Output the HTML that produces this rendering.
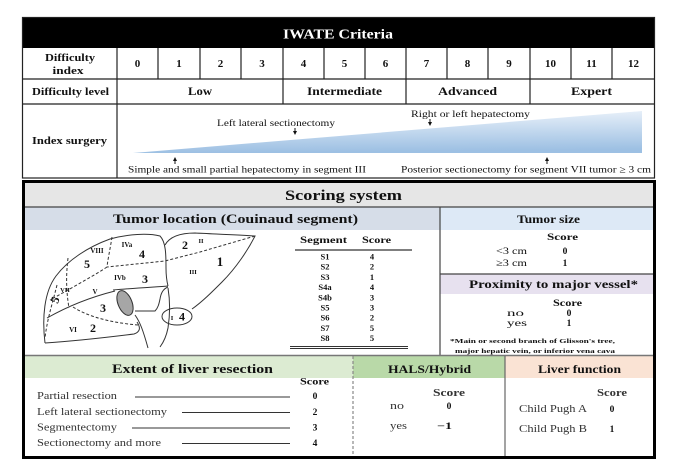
<!DOCTYPE html>
<html><head><meta charset="utf-8"><style>
html,body{margin:0;padding:0;background:#fff;}
svg{display:block;}
text{font-family:"Liberation Serif",serif;fill:#111;}
.b{font-weight:bold;}
</style></head><body>
<svg width="678" height="476" viewBox="0 0 678 476" xmlns="http://www.w3.org/2000/svg">
<defs>
<linearGradient id="wg" x1="0" y1="0" x2="0.1" y2="1">
<stop offset="0" stop-color="#eef4fb"/>
<stop offset="1" stop-color="#9dc0e3"/>
</linearGradient>
</defs>
<!-- TOP TABLE -->
<rect x="22" y="17" width="633" height="31" fill="#000"/>
<text x="338" y="38.5" class="b" font-size="14" text-anchor="middle" style="fill:#fff" textLength="110" lengthAdjust="spacingAndGlyphs">IWATE Criteria</text>
<g stroke="#222" stroke-width="1.2" fill="none">
<rect x="22.5" y="17.5" width="632" height="160.5"/>
<line x1="22" y1="79" x2="655" y2="79"/>
<line x1="22" y1="104" x2="655" y2="104"/>
<line x1="117" y1="48" x2="117" y2="178"/>
<line x1="158" y1="48" x2="158" y2="79"/>
<line x1="200" y1="48" x2="200" y2="79"/>
<line x1="241" y1="48" x2="241" y2="79"/>
<line x1="283" y1="48" x2="283" y2="104"/>
<line x1="324" y1="48" x2="324" y2="79"/>
<line x1="365" y1="48" x2="365" y2="79"/>
<line x1="406" y1="48" x2="406" y2="104"/>
<line x1="447" y1="48" x2="447" y2="79"/>
<line x1="488" y1="48" x2="488" y2="79"/>
<line x1="530" y1="48" x2="530" y2="104"/>
<line x1="571" y1="48" x2="571" y2="79"/>
<line x1="612" y1="48" x2="612" y2="79"/>
</g>
<text x="70" y="61" class="b" font-size="10.5" text-anchor="middle" textLength="50" lengthAdjust="spacingAndGlyphs">Difficulty</text>
<text x="68" y="74" class="b" font-size="10.5" text-anchor="middle" textLength="31" lengthAdjust="spacingAndGlyphs">index</text>
<g class="b" font-size="11" text-anchor="middle">
<text x="137.5" y="67" class="b">0</text>
<text x="179" y="67" class="b">1</text>
<text x="220.5" y="67" class="b">2</text>
<text x="262" y="67" class="b">3</text>
<text x="303.5" y="67" class="b">4</text>
<text x="344.5" y="67" class="b">5</text>
<text x="385.5" y="67" class="b">6</text>
<text x="426.5" y="67" class="b">7</text>
<text x="467.5" y="67" class="b">8</text>
<text x="509" y="67" class="b">9</text>
<text x="550.5" y="67" class="b">10</text>
<text x="591.5" y="67" class="b">11</text>
<text x="633.5" y="67" class="b">12</text>
</g>
<text x="32" y="95" class="b" font-size="11" textLength="77" lengthAdjust="spacingAndGlyphs">Difficulty level</text>
<text x="188" y="95" class="b" font-size="12" textLength="24" lengthAdjust="spacingAndGlyphs">Low</text>
<text x="307" y="95" class="b" font-size="12" textLength="75" lengthAdjust="spacingAndGlyphs">Intermediate</text>
<text x="438" y="95" class="b" font-size="12" textLength="59" lengthAdjust="spacingAndGlyphs">Advanced</text>
<text x="571" y="95" class="b" font-size="12" textLength="41" lengthAdjust="spacingAndGlyphs">Expert</text>
<text x="32" y="144" class="b" font-size="11" textLength="75" lengthAdjust="spacingAndGlyphs">Index surgery</text>
<polygon points="133,153 642,111 642,153" fill="url(#wg)"/>
<text x="217" y="126" font-size="9.5" textLength="118" lengthAdjust="spacingAndGlyphs">Left lateral sectionectomy</text>
<text x="411" y="117" font-size="9.5" textLength="119" lengthAdjust="spacingAndGlyphs">Right or left  hepatectomy</text>
<text x="128" y="172.5" font-size="9.5" textLength="238" lengthAdjust="spacingAndGlyphs">Simple and small partial hepatectomy in segment III</text>
<text x="401" y="172.5" font-size="9.5" textLength="250" lengthAdjust="spacingAndGlyphs">Posterior sectionectomy for segment VII tumor ≥ 3 cm</text>
<g fill="#111" stroke="#111" stroke-width="1">
<line x1="295" y1="128" x2="295" y2="132"/><polygon points="293,131 297,131 295,135" stroke="none"/>
<line x1="430" y1="119" x2="430" y2="123"/><polygon points="428,122 432,122 430,126" stroke="none"/>
<line x1="175" y1="160" x2="175" y2="164"/><polygon points="173,161 177,161 175,157" stroke="none"/>
<line x1="547" y1="160" x2="547" y2="164"/><polygon points="545,161 549,161 547,157" stroke="none"/>
</g>

<!-- SCORING BOX -->
<rect x="25" y="183" width="628" height="24" fill="#e6e6e6"/>
<rect x="25" y="207" width="415" height="23" fill="#d6dde8"/>
<rect x="440" y="207" width="213" height="23" fill="#dde9f6"/>
<rect x="440" y="274" width="213" height="20" fill="#e7e1ef"/>
<rect x="25" y="356" width="328" height="22" fill="#dcebd2"/>
<rect x="353" y="356" width="152" height="22" fill="#b9d9a8"/>
<rect x="505" y="356" width="148" height="22" fill="#fae3d4"/>
<g stroke="#444" stroke-width="1.2" fill="none">
<line x1="25" y1="207" x2="653" y2="207"/>
<line x1="440" y1="207" x2="440" y2="355"/>
<line x1="440" y1="274" x2="653" y2="274"/>
<line x1="25" y1="355.5" x2="653" y2="355.5" stroke="#777" stroke-width="1.5"/>
<line x1="353" y1="356" x2="353" y2="457" stroke="#888" stroke-dasharray="3,2"/>
<line x1="505" y1="356" x2="505" y2="457" stroke="#666"/>
</g>
<rect x="23.5" y="181.5" width="631" height="276" fill="none" stroke="#000" stroke-width="3"/>
<text x="285" y="200" class="b" font-size="15" textLength="117" lengthAdjust="spacingAndGlyphs">Scoring system</text>
<text x="113" y="223" class="b" font-size="13" textLength="245" lengthAdjust="spacingAndGlyphs">Tumor location (Couinaud segment)</text>
<text x="517" y="223" class="b" font-size="12" textLength="63" lengthAdjust="spacingAndGlyphs">Tumor size</text>
<text x="547" y="240" class="b" font-size="9.5" textLength="31" lengthAdjust="spacingAndGlyphs">Score</text>
<text x="496" y="254" font-size="9.5" textLength="31" lengthAdjust="spacingAndGlyphs">&lt;3 cm</text>
<text x="565" y="254" class="b" font-size="9.5" text-anchor="middle">0</text>
<text x="496" y="266" font-size="9.5" textLength="31" lengthAdjust="spacingAndGlyphs">≥3 cm</text>
<text x="565" y="266" class="b" font-size="9.5" text-anchor="middle">1</text>
<text x="469" y="288" class="b" font-size="12" textLength="169" lengthAdjust="spacingAndGlyphs">Proximity to major vessel*</text>
<text x="553" y="306" class="b" font-size="9.5" textLength="29" lengthAdjust="spacingAndGlyphs">Score</text>
<text x="507" y="316" font-size="9" textLength="17" lengthAdjust="spacingAndGlyphs">no</text>
<text x="569" y="316" class="b" font-size="9.5" text-anchor="middle">0</text>
<text x="507" y="326" font-size="9" textLength="20" lengthAdjust="spacingAndGlyphs">yes</text>
<text x="569" y="326" class="b" font-size="9.5" text-anchor="middle">1</text>
<text x="450" y="343" class="b" font-size="6.5" textLength="165" lengthAdjust="spacingAndGlyphs">*Main or second branch of Glisson's tree,</text>
<text x="455" y="353" class="b" font-size="6.5" textLength="160" lengthAdjust="spacingAndGlyphs">major hepatic vein, or inferior vena cava</text>

<!-- segment table -->
<text x="300" y="243" class="b" font-size="9.5" textLength="47" lengthAdjust="spacingAndGlyphs">Segment</text>
<text x="362" y="243" class="b" font-size="9.5" textLength="29" lengthAdjust="spacingAndGlyphs">Score</text>
<line x1="295" y1="250" x2="412" y2="250" stroke="#333" stroke-width="1.3"/>
<g class="b" font-size="8.5" text-anchor="middle">
<text x="325" y="259.5" class="b">S1</text><text x="372" y="259.5" class="b">4</text>
<text x="325" y="269.7" class="b">S2</text><text x="372" y="269.7" class="b">2</text>
<text x="325" y="279.9" class="b">S3</text><text x="372" y="279.9" class="b">1</text>
<text x="325" y="290.1" class="b">S4a</text><text x="372" y="290.1" class="b">4</text>
<text x="325" y="300.3" class="b">S4b</text><text x="372" y="300.3" class="b">3</text>
<text x="325" y="310.5" class="b">S5</text><text x="372" y="310.5" class="b">3</text>
<text x="325" y="320.7" class="b">S6</text><text x="372" y="320.7" class="b">2</text>
<text x="325" y="330.9" class="b">S7</text><text x="372" y="330.9" class="b">5</text>
<text x="325" y="341.1" class="b">S8</text><text x="372" y="341.1" class="b">5</text>
</g>
<line x1="290" y1="346.5" x2="408" y2="346.5" stroke="#333" stroke-width="1"/>
<line x1="290" y1="348.5" x2="408" y2="348.5" stroke="#333" stroke-width="1"/>

<!-- liver drawing -->
<g stroke="#333" stroke-width="1" fill="none">
<path d="M45,343 C42,318 44,292 56,276 C68,260 88,247 110,239 C128,234 148,233 160,236 C166,242 166,255 166,268 C166,276 167,282 168,286"/>
<path d="M45,343 C75,341 110,337 134,334 C140,332 141,328 137,322"/>
<path d="M113,290 C135,288 155,287 168,286"/>
<path d="M115,291 C95,296 70,305 47,318"/>
<path d="M135,311 L155,311 C158,308 159,304 160,299 C161,293 163,289 168,287"/>
<path d="M135,315 C140,322 143,330 148,348"/>
<path d="M168,288 C170,300 170,315 168,328 C166,338 163,343 160,347"/>
<ellipse cx="177" cy="316.5" rx="15" ry="8.5"/>
<path d="M165,245 C170,236 182,233 195,233 C215,234 240,235 255,236 C248,250 236,268 222,282 C212,292 202,302 192,309"/>
<g stroke-dasharray="3,2">
<path d="M255,236 L200,252 L165,261 L107,267"/>
<path d="M112,237 C110,250 108,258 107,267"/>
<path d="M107,267 C95,275 80,283 68,290 L50,300"/>
<path d="M68,258 C66,275 66,290 69,308"/>
<path d="M73,307 C90,318 115,323 138,325"/>
<path d="M57,285 C52,305 47,320 45,338"/>
</g>
</g>
<ellipse cx="125" cy="303" rx="7" ry="13" transform="rotate(-22 125 303)" fill="#a6a6a6" stroke="#333" stroke-width="1"/>
<g class="b">
<text x="97" y="253" font-size="7" text-anchor="middle" class="b">VIII</text>
<text x="87" y="268" font-size="12" text-anchor="middle" class="b">5</text>
<text x="127" y="247" font-size="7" text-anchor="middle" class="b">IVa</text>
<text x="142" y="258" font-size="12" text-anchor="middle" class="b">4</text>
<text x="185" y="249" font-size="12" text-anchor="middle" class="b">2</text>
<text x="201" y="243" font-size="6.5" text-anchor="middle" class="b">II</text>
<text x="220" y="266" font-size="13" text-anchor="middle" class="b">1</text>
<text x="193" y="274" font-size="6.5" text-anchor="middle" class="b">III</text>
<text x="120" y="280" font-size="7" text-anchor="middle" class="b">IVb</text>
<text x="145" y="283" font-size="12" text-anchor="middle" class="b">3</text>
<text x="65" y="292" font-size="6.5" text-anchor="middle" class="b">VII</text>
<text x="55" y="304" font-size="12" text-anchor="middle" class="b" transform="rotate(-70 55 300)">5</text>
<text x="95" y="294" font-size="7" text-anchor="middle" class="b">V</text>
<text x="103" y="312" font-size="12" text-anchor="middle" class="b">3</text>
<text x="73" y="332" font-size="7" text-anchor="middle" class="b">VI</text>
<text x="93" y="332" font-size="12" text-anchor="middle" class="b">2</text>
<text x="172" y="320" font-size="6.5" text-anchor="middle" class="b">I</text>
<text x="182" y="320.5" font-size="12" text-anchor="middle" class="b">4</text>
</g>

<!-- bottom row -->
<text x="112" y="373" class="b" font-size="13" textLength="161" lengthAdjust="spacingAndGlyphs">Extent of liver resection</text>
<text x="388" y="373" class="b" font-size="12" textLength="83" lengthAdjust="spacingAndGlyphs">HALS/Hybrid</text>
<text x="538" y="373" class="b" font-size="12" textLength="83" lengthAdjust="spacingAndGlyphs">Liver function</text>

<text x="300" y="384.5" class="b" font-size="9.5" textLength="29" lengthAdjust="spacingAndGlyphs">Score</text>
<g font-size="10.5" style="fill:#333">
<text x="37" y="399" textLength="80" lengthAdjust="spacingAndGlyphs" style="fill:#333">Partial resection</text>
<text x="37" y="415" textLength="130" lengthAdjust="spacingAndGlyphs" style="fill:#333">Left lateral sectionectomy</text>
<text x="37" y="430.5" textLength="80" lengthAdjust="spacingAndGlyphs" style="fill:#333">Segmentectomy</text>
<text x="37" y="446" textLength="124" lengthAdjust="spacingAndGlyphs" style="fill:#333">Sectionectomy and more</text>
</g>
<g stroke="#333" stroke-width="1">
<line x1="135" y1="397" x2="290" y2="397"/>
<line x1="182" y1="412.5" x2="290" y2="412.5"/>
<line x1="132" y1="428" x2="290" y2="428"/>
<line x1="182" y1="443.5" x2="290" y2="443.5"/>
</g>
<g font-size="9.5" text-anchor="middle">
<text x="315" y="399" class="b">0</text>
<text x="315" y="415" class="b">2</text>
<text x="315" y="430.5" class="b">3</text>
<text x="315" y="446" class="b">4</text>
</g>

<text x="433" y="396" class="b" font-size="10" textLength="32" lengthAdjust="spacingAndGlyphs" style="fill:#333">Score</text>
<text x="390" y="409" font-size="10.5" textLength="14" lengthAdjust="spacingAndGlyphs" style="fill:#333">no</text>
<text x="449" y="409" class="b" font-size="9.5" text-anchor="middle">0</text>
<text x="390" y="429" font-size="10.5" textLength="17" lengthAdjust="spacingAndGlyphs" style="fill:#333">yes</text>
<text x="437" y="429" class="b" font-size="9.5" textLength="15" lengthAdjust="spacingAndGlyphs">−1</text>

<text x="597" y="396" class="b" font-size="10" textLength="30" lengthAdjust="spacingAndGlyphs" style="fill:#333">Score</text>
<text x="519" y="412" font-size="10.5" textLength="68" lengthAdjust="spacingAndGlyphs" style="fill:#333">Child Pugh A</text>
<text x="612" y="412" class="b" font-size="9.5" text-anchor="middle">0</text>
<text x="519" y="432" font-size="10.5" textLength="68" lengthAdjust="spacingAndGlyphs" style="fill:#333">Child Pugh B</text>
<text x="612" y="432" class="b" font-size="9.5" text-anchor="middle">1</text>
</svg>
</body></html>
